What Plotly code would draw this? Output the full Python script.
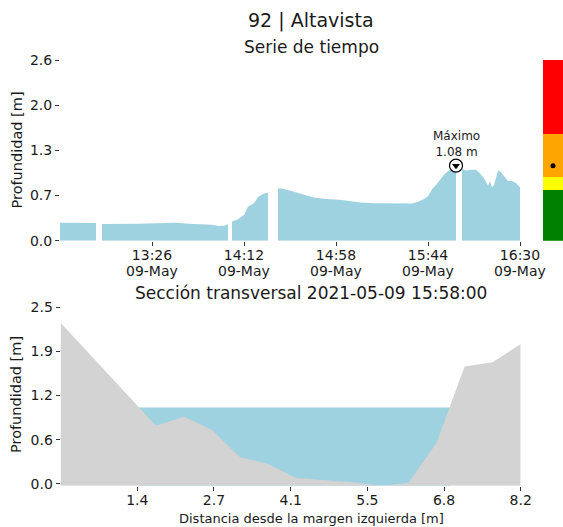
import numpy as np
import plotly.graph_objects as go

W, H = 563, 527
FONT = "DejaVu Sans"

# ---------------- text ----------------
station_title = "92 | Altavista"
series_title = "Serie de tiempo"
section_title = "Sección transversal 2021-05-09 15:58:00"
y_label = "Profundidad [m]"
x_label_section = "Distancia desde la margen izquierda [m]"
date_str = "2021-05-09"
day_label = "09-May"

# ---------------- time series (None = missing data) ----------------
times = ["12:40", "12:44", "12:48", "12:52", "12:55", "12:58", "12:59",
         "13:01", "13:06", "13:11", "13:19", "13:28", "13:38", "13:44", "13:51", "13:56", "13:59", "14:02", "14:04", "14:05",
         "14:06", "14:09", "14:12", "14:14", "14:17", "14:19", "14:22", "14:24", "14:26",
         "14:29", "14:31", "14:34", "14:37", "14:42", "14:47", "14:53", "15:00", "15:04", "15:10", "15:17", "15:25",
         "15:33", "15:36", "15:39", "15:42", "15:44", "15:46", "15:48", "15:50", "15:52", "15:54", "15:56", "15:57", "15:58", "15:59",
         "16:01", "16:03", "16:06", "16:08", "16:10", "16:12", "16:14", "16:15", "16:16", "16:17", "16:19", "16:20", "16:22",
         "16:24", "16:26", "16:28", "16:30"]
depths = [0.26, 0.26, 0.255, 0.26, 0.255, 0.255, None,
          0.24, 0.24, 0.235, 0.245, 0.25, 0.26, 0.245, 0.235, 0.23, 0.21, 0.215, 0.235, None,
          0.275, 0.31, 0.37, 0.49, 0.54, 0.63, 0.68, 0.69, None,
          0.75, 0.75, 0.73, 0.70, 0.66, 0.62, 0.60, 0.59, 0.57, 0.55, 0.54, 0.535,
          0.53, 0.535, 0.56, 0.60, 0.64, 0.74, 0.80, 0.88, 0.95, 1.00, 1.04, 1.05, 1.08, None,
          1.03, 1.01, 1.02, 1.02, 0.97, 0.90, 0.79, 0.86, 0.77, 0.80, 1.01, 1.00, 0.93,
          0.86, 0.86, 0.83, 0.77]

max_time = "15:58"
max_depth = 1.08
max_label = "Máximo<br>1.08 m"

time_range = ["12:40", "16:30"]
time_ticks = ["13:26", "14:12", "14:58", "15:44", "16:30"]
depth_range = [0.0, 2.6]
depth_ticks = [0.0, 0.65, 1.3, 1.95, 2.6]
depth_tick_labels = ["0.0", "0.7", "1.3", "2.0", "2.6"]

# ---------------- alert levels ----------------
level_bounds = [0.0, 0.73, 0.92, 1.53, 2.6]
level_colors = ["#008000", "#FFFF00", "#FFA500", "#FF0000"]
current_level = 1.08

# ---------------- cross section ----------------
section_dist = [0.0, 1.7, 2.2, 2.7, 3.2, 3.7, 4.2, 4.7, 5.2, 5.7, 6.2, 6.7, 7.2, 7.7, 8.2]
section_ground = [2.28, 0.82, 0.95, 0.76, 0.375, 0.28, 0.08, 0.05, 0.02, -0.03, 0.01, 0.58, 1.66, 1.72, 1.98]
water_level = 1.08
dist_tick_vals = [1.367, 2.733, 4.1, 5.467, 6.833, 8.2]
dist_tick_labels = ["1.4", "2.7", "4.1", "5.5", "6.8", "8.2"]
sec_depth_max = 2.5
sec_depth_ticks = [0.0, 0.625, 1.25, 1.875, 2.5]
sec_depth_labels = ["0.0", "0.6", "1.2", "1.9", "2.5"]

WATER = "#9ed2e0"
GROUND = "#d3d3d3"
TXT = "#1a1a1a"


def fx(x):
    return x / W


def fy(y):
    return 1 - y / H


def ts(t):
    return f"{date_str} {t}"


fig = go.Figure()

# time series segments (split on missing values)
seg_t, seg_v = [], []
segments = []
for t, v in zip(times, depths):
    if v is None:
        if seg_t:
            segments.append((seg_t, seg_v))
        seg_t, seg_v = [], []
    else:
        seg_t.append(ts(t))
        seg_v.append(v)
if seg_t:
    segments.append((seg_t, seg_v))

for st, sv in segments:
    fig.add_trace(go.Scatter(x=st, y=sv, mode="lines", line=dict(width=0, color=WATER),
                             fill="tozeroy", fillcolor=WATER, hoverinfo="skip",
                             xaxis="x", yaxis="y", showlegend=False))

# maximum marker
fig.add_trace(go.Scatter(x=[ts(max_time)], y=[max_depth], mode="markers",
                         marker=dict(symbol="circle", size=13, color="white",
                                     line=dict(color="black", width=1.2)),
                         xaxis="x", yaxis="y", showlegend=False))
fig.add_trace(go.Scatter(x=[ts(max_time)], y=[max_depth], mode="markers",
                         marker=dict(symbol="triangle-down", size=7, color="black"),
                         xaxis="x", yaxis="y", showlegend=False))
fig.add_annotation(x=ts(max_time), y=max_depth, xref="x", yref="y", text=max_label,
                   showarrow=False, yanchor="bottom", yshift=5,
                   font=dict(family=FONT, size=12, color=TXT))

# alert level bar
for i, c in enumerate(level_colors):
    fig.add_trace(go.Bar(x=[0], y=[level_bounds[i + 1] - level_bounds[i]], base=[level_bounds[i]],
                         marker=dict(color=c, line=dict(width=0)), width=1,
                         xaxis="x3", yaxis="y3", showlegend=False, hoverinfo="skip"))
fig.add_trace(go.Scatter(x=[0], y=[current_level], mode="markers",
                         marker=dict(color="black", size=5), xaxis="x3", yaxis="y3", showlegend=False))

# cross section
sec_min = min(section_ground)
d = np.array(section_dist)
g = np.array(section_ground)
below = g < water_level
idx = np.where(below)[0]
i0, i1 = idx[0], idx[-1]
xl = d[i0 - 1] + (water_level - g[i0 - 1]) * (d[i0] - d[i0 - 1]) / (g[i0] - g[i0 - 1])
xr = d[i1] + (water_level - g[i1]) * (d[i1 + 1] - d[i1]) / (g[i1 + 1] - g[i1])
fig.add_trace(go.Scatter(x=[xl, xr, xr, xl, xl], y=[water_level, water_level, sec_min, sec_min, water_level],
                         mode="lines", line=dict(width=0), fill="toself", fillcolor=WATER,
                         xaxis="x2", yaxis="y2", showlegend=False, hoverinfo="skip"))
fig.add_trace(go.Scatter(x=section_dist + [section_dist[-1], section_dist[0]],
                         y=section_ground + [sec_min, sec_min],
                         mode="lines", line=dict(width=0), fill="toself", fillcolor=GROUND,
                         xaxis="x2", yaxis="y2", showlegend=False, hoverinfo="skip"))

tickfont = dict(family=FONT, size=14, color=TXT)
common = dict(showgrid=False, zeroline=False, showline=False, ticks="outside", ticklen=4,
              tickcolor="#333", tickwidth=1, tickfont=tickfont, automargin=False)

# pixel layout
top_y0, top_y1 = 240.7, 60.0
sec_px_per_m = (483.7 - 307.3) / sec_depth_max
sec_bottom_px = 483.7 - sec_min * sec_px_per_m

fig.update_layout(
    width=W, height=H, margin=dict(l=0, r=0, t=0, b=0),
    template="none", paper_bgcolor="white", plot_bgcolor="white",
    barmode="overlay", bargap=0, showlegend=False,
    font=dict(family=FONT, color=TXT),
    xaxis=dict(domain=[fx(60), fx(520)], type="date", range=[ts(time_range[0]), ts(time_range[1])],
               tickvals=[ts(t) for t in time_ticks], ticktext=time_ticks,
               ticklabelstandoff=-3, anchor="y", **common),
    yaxis=dict(domain=[fy(top_y0), fy(top_y1)], range=depth_range, tickvals=depth_ticks,
               ticktext=depth_tick_labels, anchor="x", **common),
    xaxis3=dict(domain=[fx(543), fx(563)], range=[-0.5, 0.5], visible=False, anchor="y3"),
    yaxis3=dict(domain=[fy(top_y0), fy(top_y1)], range=depth_range, visible=False, anchor="x3"),
    xaxis2=dict(domain=[fx(60.6), fx(520.7)], range=[0, 8.2], tickvals=dist_tick_vals,
                ticktext=dist_tick_labels, ticklabelstandoff=-3, anchor="y2", **common),
    yaxis2=dict(domain=[fy(sec_bottom_px), fy(307.3)], range=[sec_min, sec_depth_max],
                tickvals=sec_depth_ticks, ticktext=sec_depth_labels, anchor="x2", **common),
)

# second line of the date tick labels
for t in time_ticks:
    fig.add_annotation(text=day_label, x=ts(t), xref="x", y=fy(271), yref="paper", showarrow=False,
                       xanchor="center", yanchor="middle", font=tickfont)

ann = [
    (station_title, 311, 20, 19, 0),
    (series_title, 311, 47, 17, 0),
    (section_title, 311, 292.5, 17, 0),
    (x_label_section, 311, 518, 13, 0),
    (y_label, 16, 150.5, 14.5, -90),
    (y_label, 16, 395, 14.5, -90),
]
for text, x, y, size, ang in ann:
    fig.add_annotation(text=text, x=fx(x), y=fy(y), xref="paper", yref="paper", showarrow=False,
                       xanchor="center", yanchor="middle", textangle=ang,
                       font=dict(family=FONT, size=size, color=TXT))

fig.write_html("out.html", config={"displayModeBar": False},
               post_script="document.body.style.margin='0';document.body.style.overflow='hidden';")
